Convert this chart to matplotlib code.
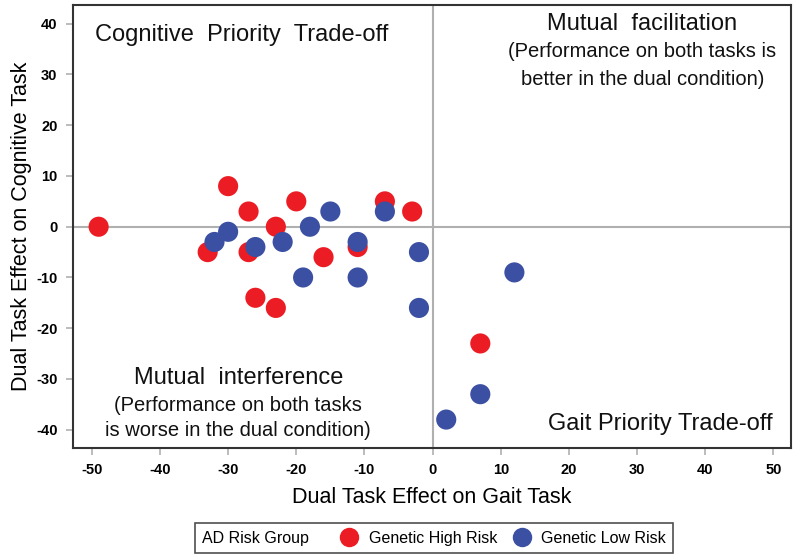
import matplotlib
matplotlib.use("Agg")
import matplotlib.pyplot as plt
from matplotlib.lines import Line2D
from matplotlib.offsetbox import HPacker

# Data
high_gait = [-49, -30, -27, -20, -23, -7, -3, -33, -27, -16, -11, -26, -23, 7]
high_cog = [0, 8, 3, 5, 0, 5, 3, -5, -5, -6, -4, -14, -16, -23]
low_gait = [-32, -30, -26, -22, -18, -15, -7, -11, -19, -11, -2, -2, 12, 7, 2]
low_cog = [-3, -1, -4, -3, 0, 3, 3, -3, -10, -10, -5, -16, -9, -33, -38]
group_labels = ["Genetic High Risk", "Genetic Low Risk"]
x_ticks = [-50, -40, -30, -20, -10, 0, 10, 20, 30, 40, 50]
y_ticks = [-40, -30, -20, -10, 0, 10, 20, 30, 40]

RED = "#EC1C24"
BLUE = "#3B4FA3"
NARROW = ["Liberation Sans Narrow", "Liberation Sans", "DejaVu Sans"]
SANS = ["Liberation Sans", "DejaVu Sans"]

fig = plt.figure(figsize=(8, 5.59), dpi=100)
ax = fig.add_axes([0.0909, 0.1986, 0.898, 0.7925])

ax.axvline(0, color="#b0b0b0", lw=1.5, zorder=1)
ax.axhline(0, color="#b0b0b0", lw=1.5, zorder=1)

ax.scatter(high_gait, high_cog, s=210, color=RED, edgecolors="none", zorder=3)
ax.scatter(low_gait, low_cog, s=210, color=BLUE, edgecolors="none", zorder=3)

ax.set_xlim(-52.8, 52.6)
ax.set_ylim(-43.6, 43.7)
ax.set_xticks(x_ticks)
ax.set_yticks(y_ticks)
ax.set_xticklabels([str(t) for t in x_ticks], fontfamily=NARROW, fontweight="bold", fontsize=10.5)
ax.set_yticklabels([str(t) for t in y_ticks], fontfamily=NARROW, fontweight="bold", fontsize=10.5)
ax.tick_params(direction="out", length=5, width=1.2, color="#b0b0b0", pad=6)

for sp in ax.spines.values():
    sp.set_color("#333333")
    sp.set_linewidth(1.5)

ax.set_xlabel("Dual Task Effect on Gait Task", fontfamily=NARROW, fontsize=15.5, labelpad=7)
ax.set_ylabel("Dual Task Effect on Cognitive Task", fontfamily=NARROW, fontsize=15.5, labelpad=3)

big = dict(fontfamily=SANS, fontsize=17, color="#111111", zorder=4)
small = dict(fontfamily=SANS, fontsize=14.5, color="#111111", zorder=4)
ax.text(-49.6, 37.8, "Cognitive  Priority  Trade-off", ha="left", va="center", **big)
ax.text(30.8, 40.0, "Mutual  facilitation", ha="center", va="center", **big)
ax.text(30.8, 34.6, "(Performance on both tasks is", ha="center", va="center", **small)
ax.text(30.8, 29.1, "better in the dual condition)", ha="center", va="center", **small)
ax.text(-28.5, -29.8, "Mutual  interference", ha="center", va="center", **big)
ax.text(-28.5, -35.2, "(Performance on both tasks", ha="center", va="center", **small)
ax.text(-28.5, -40.2, "is worse in the dual condition)", ha="center", va="center", **small)
ax.text(16.9, -38.8, "Gait Priority Trade-off", ha="left", va="center", **big)

handles = [
    Line2D([], [], marker="o", linestyle="none", markersize=14, color=RED, markeredgecolor="none"),
    Line2D([], [], marker="o", linestyle="none", markersize=14, color=BLUE, markeredgecolor="none"),
]
leg = fig.legend(handles, group_labels, loc="center", bbox_to_anchor=(0.5425, 0.0375),
                 ncol=2, frameon=True, fancybox=False, edgecolor="#222222",
                 title="AD Risk Group", handlelength=1.2, handletextpad=0.6,
                 columnspacing=0.95, borderpad=0.35, borderaxespad=0,
                 prop={"family": NARROW, "size": 11.5},
                 title_fontproperties={"family": NARROW, "size": 11.5})
leg.get_frame().set_linewidth(1.2)
# put the title to the left of the entries
box = HPacker(pad=5.2, sep=22, align="center",
              children=[leg._legend_title_box, leg._legend_handle_box])
box.set_figure(fig)
box.set_offset(leg._findoffset)
leg._legend_box = box

fig.savefig("out.png", dpi=100)
